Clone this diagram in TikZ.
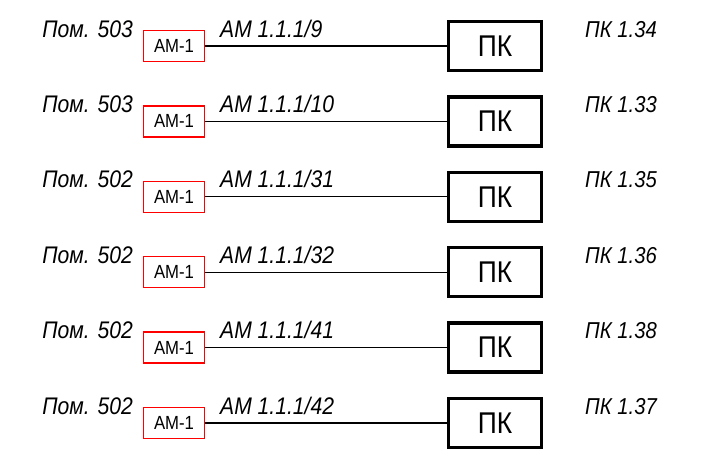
\documentclass[tikz,border=0pt]{standalone}
\usepackage{fontspec}
\setmainfont{Liberation Sans}
\newfontfamily\gostfont[FakeStretch=0.88]{Liberation Sans}
\begin{document}
\begin{tikzpicture}[x=1pt,y=-1pt,
  lbl/.style={font=\gostfont\itshape\fontsize{24}{24}\selectfont, inner sep=0pt},
  ambox/.style={draw=red, line width=1.3pt, minimum width=61pt, minimum height=31pt, inner sep=0pt, font=\gostfont\fontsize{19}{19}\selectfont},
  pkbox/.style={draw=black, line width=3.3pt, minimum width=93pt, minimum height=49pt, inner sep=0pt, font=\gostfont\fontsize{30}{30}\selectfont},
  wire/.style={line width=1.2pt}]
\useasboundingbox (0,0) rectangle (701,450);
\clip (0,0) rectangle (701,450);
\foreach \i/\pom/\am/\pk in {0/503/9/1.34, 1/503/10/1.33, 2/502/31/1.35, 3/502/32/1.36, 4/502/41/1.38, 5/502/42/1.37}{
  \pgfmathsetmacro{\yy}{46+75.4*\i}
  \node[ambox] (a\i) at (174,\yy) {АМ-1};
  \node[pkbox] (p\i) at (495,\yy) {ПК};
  \draw[wire] (a\i.east) -- (p\i.west);
  \node[lbl, anchor=base east] (r\i) at (133,\yy-9) {Пом. \pom};
  \node[lbl, anchor=base west] (c\i) at (220,\yy-9) {АМ 1.1.1/\am};
  \node[lbl, anchor=base west, font=\gostfont\itshape\fontsize{23}{23}\selectfont] (k\i) at (585,\yy-9) {ПК \pk};
}
\end{tikzpicture}
\end{document}
